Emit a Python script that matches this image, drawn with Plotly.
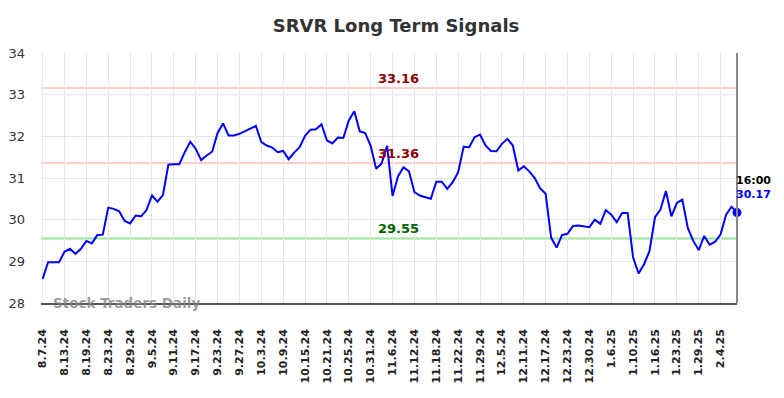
import pandas as pd
import plotly.graph_objects as go

holidays = ["2024-09-02", "2024-11-28", "2024-12-25", "2025-01-01", "2025-01-20"]
days = [d for d in pd.bdate_range("2024-08-07", "2025-02-07") if d.strftime("%Y-%m-%d") not in holidays]
dates = [f"{d.month}.{d.day}.{d.year % 100}" for d in days]

values = [
    28.58, 28.98, 28.98, 28.98, 29.23, 29.30, 29.18, 29.30, 29.49, 29.43,
    29.63, 29.64, 30.29, 30.26, 30.20, 29.97, 29.91, 30.10, 30.08, 30.23,
    30.58, 30.43, 30.59, 31.32, 31.33, 31.33, 31.62, 31.87, 31.70, 31.43,
    31.54, 31.63, 32.08, 32.31, 32.02, 32.02, 32.06, 32.13, 32.19, 32.25,
    31.86, 31.78, 31.73, 31.62, 31.65, 31.45, 31.61, 31.74, 32.01, 32.16,
    32.17, 32.29, 31.90, 31.83, 31.97, 31.96, 32.38, 32.60, 32.12, 32.08,
    31.77, 31.22, 31.35, 31.77, 30.57, 31.04, 31.26, 31.16, 30.66, 30.58,
    30.54, 30.50, 30.91, 30.91, 30.74, 30.90, 31.14, 31.75, 31.74, 31.98,
    32.04, 31.78, 31.65, 31.64, 31.82, 31.94, 31.78, 31.18, 31.28, 31.16,
    31.00, 30.75, 30.62, 29.57, 29.33, 29.63, 29.66, 29.85, 29.86, 29.84,
    29.82, 30.00, 29.90, 30.23, 30.12, 29.94, 30.16, 30.16, 29.09, 28.71,
    28.93, 29.25, 30.06, 30.24, 30.69, 30.08, 30.40, 30.48, 29.80, 29.49,
    29.27, 29.61, 29.40, 29.47, 29.65, 30.12, 30.31, 30.17,
]

tick_labels = dates[::4]
upper_level = 33.16
mid_level = 31.36
lower_level = 29.55
last_time = "16:00"

FONT = "DejaVu Sans"

fig = go.Figure()
fig.add_trace(go.Scatter(
    x=dates, y=values, mode="lines",
    line=dict(color="#0000ff", width=2),
    hoverinfo="skip", showlegend=False,
))
fig.add_trace(go.Scatter(
    x=[dates[-1]], y=[values[-1]], mode="markers",
    marker=dict(color="#0000ff", size=9),
    hoverinfo="skip", showlegend=False, cliponaxis=False,
))

for lvl, col in [(upper_level, "#ffcccc"), (mid_level, "#ffcccc"), (lower_level, "#99e699")]:
    fig.add_hline(y=lvl, line=dict(color=col, width=2), layer="below")

for lvl, col in [(upper_level, "#8b0000"), (mid_level, "#8b0000"), (lower_level, "#006400")]:
    fig.add_annotation(
        x=0.514, xref="paper", y=lvl, yref="y", text=f"<b>{lvl:.2f}</b>",
        showarrow=False, yanchor="bottom", xanchor="center",
        font=dict(family=FONT, size=13, color=col),
    )

fig.add_annotation(
    x=dates[-1], y=values[-1], text=f"<b>{last_time}</b>", showarrow=False,
    xanchor="left", yanchor="middle", yshift=32, xshift=-3,
    font=dict(family=FONT, size=11, color="#000000"),
)
fig.add_annotation(
    x=dates[-1], y=values[-1], text=f"<b>{values[-1]:.2f}</b>", showarrow=False,
    xanchor="left", yanchor="middle", yshift=18, xshift=-3,
    font=dict(family=FONT, size=11, color="#0000ff"),
)

fig.add_annotation(
    x=0.014, xref="paper", y=0, yref="paper", text="<b>Stock Traders Daily</b>",
    showarrow=False, xanchor="left", yanchor="middle",
    font=dict(family=FONT, size=13.5, color="rgba(130,130,130,0.8)"),
)

fig.add_shape(type="line", xref="paper", yref="paper", x0=1, x1=1, y0=0, y1=1,
              line=dict(color="#888888", width=2))

fig.update_layout(
    width=776, height=390,
    margin=dict(l=33, r=47, t=45, b=95, autoexpand=False),
    paper_bgcolor="white", plot_bgcolor="white",
    title=dict(text="<b>SRVR Long Term Signals</b>", x=0.5, xanchor="center",
               y=0.954, yanchor="middle",
               font=dict(family=FONT, size=18, color="#333333")),
    font=dict(family=FONT, color="#333333"),
)
fig.update_xaxes(
    type="category", categoryorder="array", categoryarray=dates,
    range=[-0.3, len(dates) - 1], automargin=False,
    tickmode="array", tickvals=tick_labels, ticktext=[f"<b>{t}</b>" for t in tick_labels],
    tickangle=-90, tickfont=dict(family=FONT, size=11, color="#222222"),
    showgrid=True, gridcolor="#e6e6e6", gridwidth=1,
    showline=True, linecolor="#555555", linewidth=1.5,
    ticks="", ticklabelstandoff=20, zeroline=False,
)
fig.update_yaxes(
    range=[28, 34], dtick=1, tickfont=dict(family=FONT, size=13, color="#333333"),
    showgrid=True, gridcolor="#e6e6e6", gridwidth=1, zeroline=False,
    ticks="", ticklabelstandoff=15, automargin=False,
)

fig.write_html("out.html")
